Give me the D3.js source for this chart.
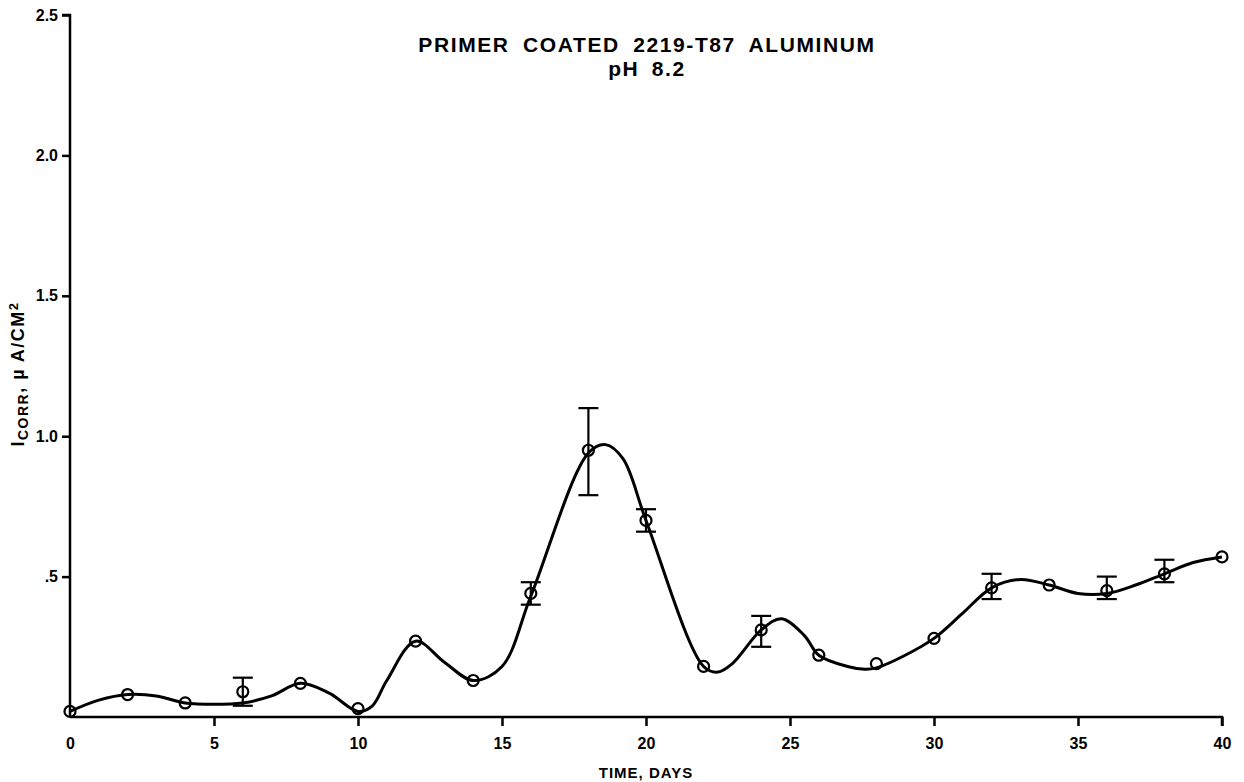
<!DOCTYPE html>
<html><head><meta charset="utf-8">
<script src="https://cdn.jsdelivr.net/npm/d3@7"></script>
<style>
html,body{margin:0;padding:0;background:#fff;}
svg text{font-family:"Liberation Sans",Arial,Helvetica,sans-serif;font-weight:bold;fill:#000;}
</style></head>
<body>
<svg id="chart" width="1244" height="782"></svg>
<script>
// ---- data ----
const titleLines = ["PRIMER COATED 2219-T87 ALUMINUM", "pH 8.2"];
const xLabel = "TIME, DAYS";
const xTicks = [0, 5, 10, 15, 20, 25, 30, 35, 40];
const yTicks = [0.5, 1.0, 1.5, 2.0, 2.5];
const yTickLabels = [".5", "1.0", "1.5", "2.0", "2.5"];

// measured points
const days = [0, 2, 4, 6, 8, 10, 12, 14, 16, 18, 20, 22, 24, 26, 28, 30, 32, 34, 36, 38, 40];
const icorr = [0.02, 0.08, 0.05, 0.09, 0.12, 0.03, 0.27, 0.13, 0.44, 0.95, 0.70, 0.18, 0.31, 0.22, 0.19, 0.28, 0.46, 0.47, 0.45, 0.51, 0.57];

// error bars (day, low, high)
const errDays = [6, 16, 18, 20, 24, 32, 36, 38];
const errLow  = [0.04, 0.40, 0.79, 0.66, 0.25, 0.42, 0.42, 0.48];
const errHigh = [0.14, 0.48, 1.10, 0.74, 0.36, 0.51, 0.50, 0.56];

// hand-drawn smooth fitted curve
const curveX = [0, 1, 2, 3, 4, 5, 6, 7, 8, 9, 10, 10.5, 11, 12, 13, 14, 15, 16, 18, 18.6, 19.2, 20, 22, 22.5, 23, 24, 24.7, 25.5, 26, 27, 27.6, 28, 29, 30, 31, 32, 33, 34, 35, 36, 37, 38, 39, 40];
const curveY = [0.02, 0.06, 0.08, 0.075, 0.05, 0.045, 0.05, 0.075, 0.12, 0.085, 0.02, 0.04, 0.13, 0.27, 0.195, 0.13, 0.18, 0.43, 0.94, 0.97, 0.92, 0.70, 0.18, 0.16, 0.19, 0.31, 0.35, 0.29, 0.22, 0.18, 0.17, 0.175, 0.22, 0.28, 0.37, 0.46, 0.49, 0.47, 0.44, 0.44, 0.47, 0.51, 0.55, 0.57];

// ---- drawing ----
const svg = d3.select("#chart");
const x = d3.scaleLinear().domain([0, 40]).range([70, 1222]);
const y = d3.scaleLinear().domain([0, 2.5]).range([717, 15]);

// title
svg.append("text").attr("x", 647).attr("y", 52).attr("text-anchor", "middle")
  .style("font-size", "21px").style("letter-spacing", "1.6px").style("word-spacing", "6px").text(titleLines[0]);
svg.append("text").attr("x", 647).attr("y", 76).attr("text-anchor", "middle")
  .style("font-size", "21px").style("letter-spacing", "1.6px").style("word-spacing", "5px").text(titleLines[1]);

// x axis
const xAxis = d3.axisBottom(x).tickValues(xTicks).tickSize(9).tickPadding(12).tickFormat(d3.format("d"));
const gx = svg.append("g").attr("transform", `translate(0,${y(0)})`).call(xAxis);
gx.select(".domain").attr("stroke", "#000").attr("stroke-width", 2.5).attr("d", `M${x(0)},0H${x(40)}V9`);
gx.selectAll(".tick line").attr("stroke", "#000").attr("stroke-width", 2.5);
gx.selectAll(".tick text").style("font-size", "16px").style("font-family", "Liberation Sans, Arial, sans-serif").style("font-weight", "bold");
gx.selectAll(".tick").filter(d => d === 0).select("line").remove();

// y axis
const yAxis = d3.axisLeft(y).tickValues(yTicks).tickSize(8).tickPadding(4)
  .tickFormat((d, i) => yTickLabels[i]);
const gy = svg.append("g").attr("transform", `translate(${x(0)},0)`).call(yAxis);
gy.select(".domain").attr("stroke", "#000").attr("stroke-width", 2.5).attr("d", `M-8,${y(2.5)}H0V${y(0)}`);
gy.selectAll(".tick line").attr("stroke", "#000").attr("stroke-width", 2.5);
gy.selectAll(".tick text").style("font-size", "16px").style("font-family", "Liberation Sans, Arial, sans-serif").style("font-weight", "bold");

// x label
svg.append("text").attr("x", x(20)).attr("y", 778).attr("text-anchor", "middle")
  .style("font-size", "15px").style("letter-spacing", "1px").text(xLabel);

// y label (rotated) with subscript
const yl = svg.append("text").attr("transform", `translate(24,${374}) rotate(-90)`)
  .attr("text-anchor", "middle").style("font-size", "18px").style("letter-spacing", "1.5px");
yl.append("tspan").text("I");
yl.append("tspan").attr("dy", 4).style("font-size", "14px").text("CORR");
yl.append("tspan").attr("dy", -4).text(", \u00B5 A/CM");
yl.append("tspan").attr("dy", -6).style("font-size", "13px").text("2");

// fitted curve
const curvePts = curveX.map((d, i) => [d, curveY[i]]);
svg.append("path").datum(curvePts)
  .attr("fill", "none").attr("stroke", "#000").attr("stroke-width", 3)
  .attr("stroke-linejoin", "round")
  .attr("d", d3.line().x(d => x(d[0])).y(d => y(d[1])).curve(d3.curveCatmullRom.alpha(0.5)));

// error bars
const errs = errDays.map((d, i) => ({d, lo: errLow[i], hi: errHigh[i]}));
const eg = svg.append("g").attr("stroke", "#000").attr("stroke-width", 2.2);
eg.selectAll("line.v").data(errs).join("line").attr("class", "v")
  .attr("x1", e => x(e.d)).attr("x2", e => x(e.d)).attr("y1", e => y(e.lo)).attr("y2", e => y(e.hi));
eg.selectAll("line.t").data(errs).join("line").attr("class", "t")
  .attr("x1", e => x(e.d) - 10).attr("x2", e => x(e.d) + 10).attr("y1", e => y(e.hi)).attr("y2", e => y(e.hi));
eg.selectAll("line.b").data(errs).join("line").attr("class", "b")
  .attr("x1", e => x(e.d) - 10).attr("x2", e => x(e.d) + 10).attr("y1", e => y(e.lo)).attr("y2", e => y(e.lo));

// markers (open circles, curve visible through them)
svg.append("g").selectAll("circle").data(days.map((d, i) => [d, icorr[i]])).join("circle")
  .attr("cx", d => x(d[0])).attr("cy", d => y(d[1])).attr("r", 5.5)
  .attr("fill", "none").attr("stroke", "#000").attr("stroke-width", 2.2);
</script>
</body></html>
